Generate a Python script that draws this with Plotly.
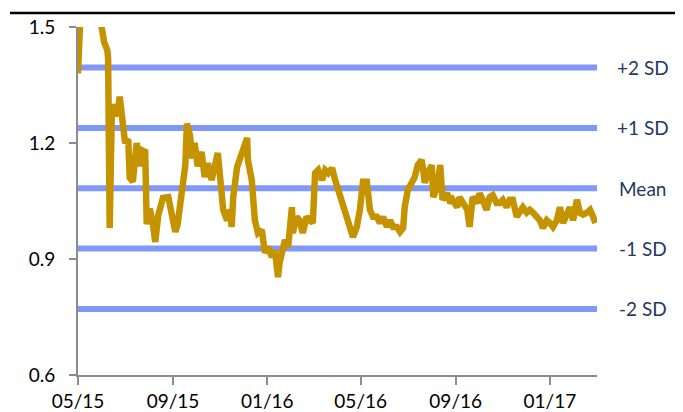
import plotly.graph_objects as go

# ---- data ----
dates = [
    "2015-05-01", "2015-05-02", "2015-05-06", "2015-05-11", "2015-05-17", "2015-05-23", "2015-05-29",
    "2015-06-04", "2015-06-08", "2015-06-09", "2015-06-11", "2015-06-14", "2015-06-18", "2015-06-22",
    "2015-06-24", "2015-06-28", "2015-07-01", "2015-07-05", "2015-07-07", "2015-07-11", "2015-07-16",
    "2015-07-18", "2015-07-20", "2015-07-24", "2015-07-27", "2015-07-29", "2015-08-02", "2015-08-06",
    "2015-08-09", "2015-08-13", "2015-08-19", "2015-08-26", "2015-08-31", "2015-09-04", "2015-09-07",
    "2015-09-13", "2015-09-17", "2015-09-19", "2015-09-23", "2015-09-26", "2015-09-29", "2015-10-03",
    "2015-10-06", "2015-10-08", "2015-10-12", "2015-10-16", "2015-10-21", "2015-10-25", "2015-10-29",
    "2015-11-01", "2015-11-05", "2015-11-10", "2015-11-14", "2015-11-16", "2015-11-18", "2015-11-23",
    "2015-11-27", "2015-12-01", "2015-12-06", "2015-12-07", "2015-12-12", "2015-12-16", "2015-12-20",
    "2015-12-25", "2015-12-26", "2015-12-29", "2016-01-02", "2016-01-07", "2016-01-11", "2016-01-15",
    "2016-01-17", "2016-01-20", "2016-01-24", "2016-01-28", "2016-02-02", "2016-02-03", "2016-02-08",
    "2016-02-12", "2016-02-16", "2016-02-21", "2016-02-25", "2016-02-29", "2016-03-03", "2016-03-07",
    "2016-03-12", "2016-03-16", "2016-03-20", "2016-03-25", "2016-03-29", "2016-04-02", "2016-04-07",
    "2016-04-11", "2016-04-15", "2016-04-21", "2016-04-26", "2016-04-30", "2016-05-04", "2016-05-09",
    "2016-05-13", "2016-05-17", "2016-05-22", "2016-05-26", "2016-05-30", "2016-06-04", "2016-06-08",
    "2016-06-12", "2016-06-17", "2016-06-21", "2016-06-25", "2016-06-27", "2016-07-01", "2016-07-06",
    "2016-07-10", "2016-07-14", "2016-07-19", "2016-07-21", "2016-07-23", "2016-07-27", "2016-08-01",
    "2016-08-03", "2016-08-08", "2016-08-12", "2016-08-15", "2016-08-21", "2016-08-25", "2016-08-28",
    "2016-09-03", "2016-09-06", "2016-09-10", "2016-09-16", "2016-09-19", "2016-09-23", "2016-09-29",
    "2016-10-02", "2016-10-06", "2016-10-11", "2016-10-15", "2016-10-19", "2016-10-24", "2016-10-28",
    "2016-11-01", "2016-11-06", "2016-11-10", "2016-11-14", "2016-11-19", "2016-11-23", "2016-11-27",
    "2016-12-02", "2016-12-06", "2016-12-10", "2016-12-15", "2016-12-19", "2016-12-23", "2016-12-28",
    "2017-01-01", "2017-01-05", "2017-01-10", "2017-01-14", "2017-01-18", "2017-01-23", "2017-01-27",
    "2017-01-31", "2017-02-05", "2017-02-09", "2017-02-13", "2017-02-18", "2017-02-22", "2017-02-26",
    "2017-03-01",
]
values = [
    1.38, 1.55, 1.62, 1.58, 1.65, 1.60, 1.52,
    1.46, 1.44, 1.42, 0.98, 1.30, 1.27, 1.29,
    1.32, 1.25, 1.20, 1.21, 1.11, 1.10, 1.20,
    1.17, 1.14, 1.18, 1.177, 0.99, 1.03, 0.99,
    0.944, 1.014, 1.058, 1.06, 1.014, 0.97, 0.99,
    1.073, 1.143, 1.25, 1.22, 1.16, 1.20, 1.14,
    1.174, 1.177, 1.112, 1.148, 1.104, 1.138, 1.174,
    1.112, 1.027, 1.00, 1.027, 0.983, 1.06, 1.138,
    1.164, 1.182, 1.213, 1.156, 1.104, 1.00, 0.967,
    0.975, 0.949, 0.916, 0.931, 0.905, 0.923, 0.853,
    0.89, 0.923, 0.949, 0.93, 1.034, 0.967, 1.009,
    1.00, 0.967, 1.009, 1.00, 0.993, 1.122, 1.13,
    1.104, 1.13, 1.122, 1.135, 1.104, 1.078, 1.034,
    1.019, 0.983, 0.957, 0.983, 1.027, 1.10, 1.10,
    1.027, 1.009, 1.009, 0.993, 1.009, 0.983, 1.00,
    0.983, 0.983, 0.97, 0.98, 1.034, 1.078, 1.10,
    1.112, 1.143, 1.156, 1.13, 1.097, 1.122, 1.143,
    1.06, 1.086, 1.143, 1.053, 1.07, 1.045, 1.053,
    1.034, 1.06, 1.045, 1.027, 0.983, 1.06, 1.045,
    1.07, 1.053, 1.027, 1.06, 1.065, 1.045, 1.045,
    1.053, 1.034, 1.053, 1.053, 1.009, 1.019, 1.034,
    1.02, 1.027, 1.02, 1.009, 1.00, 0.98, 1.00,
    0.993, 0.983, 1.00, 1.034, 0.993, 1.019, 1.034,
    1.00, 1.053, 1.019, 1.015, 1.02, 1.027, 1.009,
    0.993,
]

band_names = ["+2 SD", "+1 SD", "Mean", "-1 SD", "-2 SD"]
band_values = [1.395, 1.239, 1.083, 0.927, 0.771]
band_span = ["2015-05-01", "2017-03-03"]

tick_dates = ["2015-05-01", "2015-09-01", "2016-01-01", "2016-05-01", "2016-09-01", "2017-01-01"]
tick_labels = ["05/15", "09/15", "01/16", "05/16", "09/16", "01/17"]
y_ticks = [0.6, 0.9, 1.2, 1.5]

BAND_COLOR = "#8098F8"
SERIES_COLOR = "#C69300"
LABEL_COLOR = "#1F3A60"
FONT = "Lato, 'Liberation Sans', Arial, sans-serif"

fig = go.Figure()

for name, v in zip(band_names, band_values):
    fig.add_trace(go.Scatter(
        x=band_span, y=[v, v], mode="lines",
        line=dict(color=BAND_COLOR, width=6),
        hoverinfo="skip", showlegend=False,
    ))
    fig.add_annotation(
        x=1.088, xref="paper", y=v, yref="y", text=name, showarrow=False,
        xanchor="center", yanchor="middle",
        font=dict(family=FONT, size=19, color=LABEL_COLOR),
    )

fig.add_trace(go.Scatter(
    x=dates, y=values, mode="lines",
    line=dict(color=SERIES_COLOR, width=6.5),
    showlegend=False,
))

# top rule line
fig.add_shape(type="line", xref="paper", yref="paper", layer="above",
              x0=-0.131, x1=1.17, y0=1.040, y1=1.040,
              line=dict(color="black", width=2.5))

fig.update_layout(
    width=675, height=404,
    margin=dict(l=70, r=86, t=19, b=37, autoexpand=False),
    paper_bgcolor="white", plot_bgcolor="white",
    font=dict(family=FONT, size=19, color="black"),
    xaxis=dict(
        type="date", range=["2015-05-01", "2017-03-03"], automargin=False,
        tickmode="array", tickvals=tick_dates, ticktext=tick_labels,
        showgrid=False, zeroline=False,
        showline=True, linecolor="#8C8C8C", linewidth=2,
        ticks="outside", ticklen=8, tickwidth=1.5, tickcolor="#8C8C8C",
        tickfont=dict(size=19, family=FONT),
    ),
    yaxis=dict(
        range=[0.6, 1.5], tickmode="array", tickvals=y_ticks, automargin=False,
        ticktext=[f"{t:.1f}" for t in y_ticks],
        showgrid=False, zeroline=False,
        showline=True, linecolor="#8C8C8C", linewidth=2,
        ticks="outside", ticklen=7, tickwidth=1.5, tickcolor="#8C8C8C",
        tickfont=dict(size=19, family=FONT),
        ticklabelstandoff=10,
    ),
)

fig.write_html("out.html")
